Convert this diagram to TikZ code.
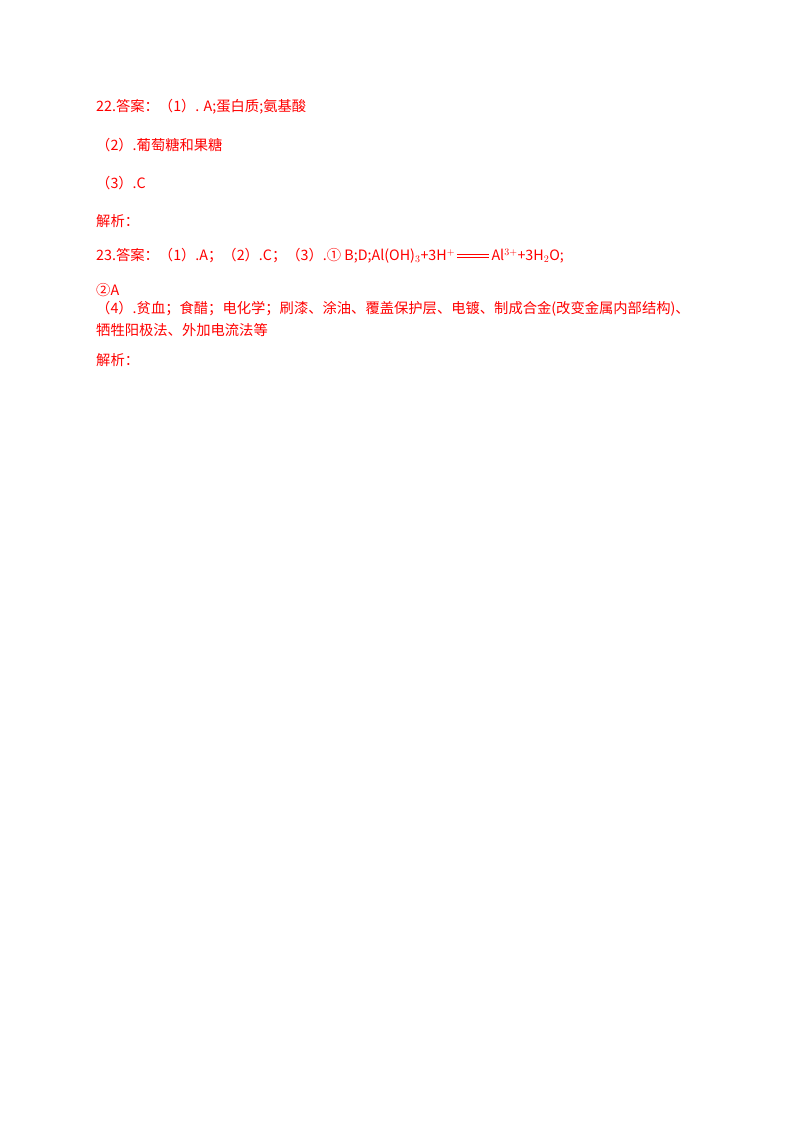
\documentclass[tikz,border=0pt]{standalone}
\usepackage{fontspec}
\setmainfont{Noto Sans CJK SC}
\begin{document}
\begin{tikzpicture}[x=1pt,y=-1pt,
  t/.style={anchor=west,inner sep=0pt,text=red,font=\fontsize{14.3}{16}\selectfont},
  eq/.style={red,line width=0.9pt}]
\useasboundingbox (0,0) rectangle (800,1132);
\node[t] (l1) at (96,107) {22.答案：（1）. A;蛋白质;氨基酸};
\node[t] (l2) at (96,145) {（2）.葡萄糖和果糖};
\node[t] (l3) at (96,183) {（3）.C};
\node[t] (l4) at (96,221) {解析：};
\node[t] (l5) at (96,256) {23.答案：（1）.A；（2）.C；（3）.① B;D;Al(OH)$_3$+3H$^+$};
\node[t,anchor=west] (l5b) at ([xshift=36pt]l5.east) {Al$^{3+}$+3H$_2$O;};
\draw[eq] ([xshift=2pt,yshift=1.6pt]l5.east) -- ([xshift=-2pt,yshift=1.6pt]l5b.west);
\draw[eq] ([xshift=2pt,yshift=-1.6pt]l5.east) -- ([xshift=-2pt,yshift=-1.6pt]l5b.west);
\node[t] (l6) at (96,290) {②A};
\node[t] (l7) at (96,309) {（4）.贫血；食醋；电化学；刷漆、涂油、覆盖保护层、电镀、制成合金(改变金属内部结构)、};
\node[t] (l8) at (96,330) {牺牲阳极法、外加电流法等};
\node[t] (l9) at (96,360) {解析：};
\end{tikzpicture}
\end{document}
